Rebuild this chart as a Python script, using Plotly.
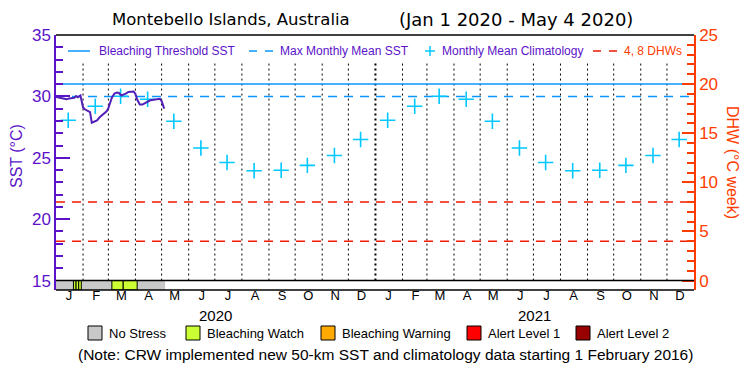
import plotly.graph_objects as go
import pandas as pd

# ---------------- data ----------------
sst_dates = ['2020-01-01', '2020-01-04', '2020-01-07', '2020-01-10', '2020-01-13', '2020-01-16',
             '2020-01-19', '2020-01-22', '2020-01-24', '2020-01-26', '2020-01-29', '2020-01-30',
             '2020-02-01', '2020-02-03', '2020-02-06', '2020-02-09', '2020-02-11', '2020-02-14',
             '2020-02-17', '2020-02-20', '2020-02-23', '2020-02-26', '2020-02-28', '2020-03-01',
             '2020-03-03', '2020-03-05', '2020-03-08', '2020-03-11', '2020-03-13', '2020-03-16',
             '2020-03-18', '2020-03-21', '2020-03-24', '2020-03-27', '2020-03-30', '2020-04-01',
             '2020-04-03', '2020-04-06', '2020-04-09', '2020-04-12', '2020-04-15', '2020-04-18',
             '2020-04-22', '2020-04-26', '2020-04-29', '2020-05-01', '2020-05-03', '2020-05-04']
sst_values = [29.96, 29.92, 29.85, 29.80, 29.77, 29.82,
              29.85, 29.88, 30.02, 29.92, 30.07, 29.73,
              29.10, 28.95, 28.82, 28.72, 27.85, 27.92,
              28.05, 28.30, 28.48, 28.68, 28.78, 29.04,
              29.50, 29.89, 30.24, 30.32, 30.28, 30.07,
              30.15, 30.22, 30.36, 30.40, 30.40, 30.20,
              29.74, 29.34, 29.33, 29.45, 29.55, 29.68,
              29.72, 29.78, 29.80, 29.62, 29.20, 29.00]

clim_months = [1, 2, 3, 4, 5, 6, 7, 8, 9, 10, 11, 12]
clim_values = [28.06, 29.20, 30.01, 29.77, 27.98, 25.79, 24.62, 23.94, 23.98, 24.38, 25.19, 26.49]
clim_years = [2020, 2021]

bleaching_threshold = 31.0
max_monthly_mean = 30.0
dhw_levels = [4, 8]

stress_names = ['No Stress', 'Bleaching Watch', 'Bleaching Warning', 'Alert Level 1', 'Alert Level 2']
stress_colors = ['#c8c8c8', '#ccff33', '#ffaa00', '#ff0000', '#990000']
stress_start = ['2020-01-01', '2020-01-21', '2020-01-24', '2020-01-27', '2020-03-05', '2020-03-18']
stress_end = ['2020-05-05', '2020-01-24', '2020-01-27', '2020-01-30', '2020-03-18', '2020-04-03']
stress_level = [0, 1, 1, 1, 1, 1]

month_letters = ['J', 'F', 'M', 'A', 'M', 'J', 'J', 'A', 'S', 'O', 'N', 'D']
year_labels = ['2020', '2021']

title_site = 'Montebello Islands, Australia'
title_period = '(Jan 1 2020 - May 4 2020)'
note_text = '(Note: CRW implemented new 50-km SST and climatology data starting 1 February 2016)'

# ---------------- styling ----------------
W, H = 750, 375
ML, MR, MT, MB = 56, 56, 35, 85
PW, PH = W - ML - MR, H - MT - MB
FONT = 'Liberation Sans'
TFONT = 'DejaVu Sans'
PURPLE = '#5b12c8'
SSTLINE = '#5220b8'
BLUE = '#0a96ff'
CYAN = '#00c8ff'
ORANGE = '#ff3c00'
RED = '#f01a00'

Y_TOP = 35.0
Y_BASE = 15.0
Y_MIN = 14.23          # bottom of stress strip
DHW_SCALE = 1.25       # 25 DHW over 20 degC
X0, X1 = '2020-01-01', '2022-01-01'


def px(xp):
    return (xp - ML) / PW


def py(yp):
    return (H - MB - yp) / PH


fig = go.Figure()

# horizontal reference lines
fig.add_trace(go.Scatter(x=[X0, X1], y=[bleaching_threshold] * 2, mode='lines',
                         line=dict(color=BLUE, width=1.5), showlegend=False, hoverinfo='skip'))
fig.add_trace(go.Scatter(x=[X0, X1], y=[max_monthly_mean] * 2, mode='lines',
                         line=dict(color=BLUE, width=1.5, dash='9px,7px'), showlegend=False,
                         hoverinfo='skip'))
for lv in dhw_levels:
    fig.add_trace(go.Scatter(x=[X0, X1], y=[lv, lv], mode='lines', yaxis='y2',
                             line=dict(color=RED, width=1.5, dash='9px,7px'), showlegend=False,
                             hoverinfo='skip'))

# climatology crosses
clim_x, clim_y = [], []
for yr in clim_years:
    for m, v in zip(clim_months, clim_values):
        clim_x.append(pd.Timestamp(year=yr, month=m, day=15))
        clim_y.append(v)
fig.add_trace(go.Scatter(x=clim_x, y=clim_y, mode='markers',
                         marker=dict(symbol='cross-thin', size=11, line=dict(color=CYAN, width=1.6)),
                         showlegend=False, hoverinfo='skip'))

# SST line
fig.add_trace(go.Scatter(x=sst_dates, y=sst_values, mode='lines',
                         line=dict(color=SSTLINE, width=2), showlegend=False))

shapes = []
# month boundary dotted lines
bounds = pd.date_range('2020-02-01', '2021-12-01', freq='MS')
for b in bounds:
    yb = b.month == 1
    shapes.append(dict(type='line', xref='x', yref='y', x0=b, x1=b, y0=Y_BASE, y1=32.7,
                       line=dict(color='black', width=2 if yb else 1, dash='2px,3px'),
                       layer='below'))

# stress strip
for s, e, lvl in zip(stress_start, stress_end, stress_level):
    shapes.append(dict(type='rect', xref='x', yref='y', x0=s, x1=e, y0=Y_MIN, y1=Y_BASE,
                       fillcolor=stress_colors[lvl],
                       line=dict(color='black', width=1 if lvl > 0 else 0)))

# frame lines
shapes.append(dict(type='line', xref='paper', yref='paper', x0=0, x1=1, y0=1, y1=1,
                   line=dict(color='black', width=1.5)))
shapes.append(dict(type='line', xref='paper', yref='y', x0=0, x1=1, y0=Y_BASE, y1=Y_BASE,
                   line=dict(color='black', width=1.5)))
shapes.append(dict(type='line', xref='paper', yref='paper', x0=0, x1=1, y0=0, y1=0,
                   line=dict(color='black', width=1.5)))

annotations = []
LEG_Y = py(51)
# top legend
shapes.append(dict(type='line', xref='paper', yref='paper', x0=px(68), x1=px(90), y0=LEG_Y, y1=LEG_Y,
                   line=dict(color=BLUE, width=1.5)))
annotations.append(dict(x=px(97), y=LEG_Y, xref='paper', yref='paper', text='Bleaching Threshold SST',
                        showarrow=False, xanchor='left', yanchor='middle',
                        font=dict(family=FONT, size=12, color=PURPLE)))
shapes.append(dict(type='line', xref='paper', yref='paper', x0=px(249), x1=px(273), y0=LEG_Y, y1=LEG_Y,
                   line=dict(color=BLUE, width=1.5, dash='8px,8px')))
annotations.append(dict(x=px(278), y=LEG_Y, xref='paper', yref='paper', text='Max Monthly Mean SST',
                        showarrow=False, xanchor='left', yanchor='middle',
                        font=dict(family=FONT, size=12, color=PURPLE)))
shapes.append(dict(type='line', xref='paper', yref='paper', x0=px(425), x1=px(435), y0=LEG_Y, y1=LEG_Y,
                   line=dict(color=CYAN, width=1.5)))
shapes.append(dict(type='line', xref='paper', yref='paper', x0=px(430), x1=px(430), y0=py(46), y1=py(56),
                   line=dict(color=CYAN, width=1.5)))
annotations.append(dict(x=px(440), y=LEG_Y, xref='paper', yref='paper', text='Monthly Mean Climatology',
                        showarrow=False, xanchor='left', yanchor='middle',
                        font=dict(family=FONT, size=12, color=PURPLE)))
shapes.append(dict(type='line', xref='paper', yref='paper', x0=px(593), x1=px(617), y0=LEG_Y, y1=LEG_Y,
                   line=dict(color=RED, width=1.5, dash='8px,8px')))
annotations.append(dict(x=px(622), y=LEG_Y, xref='paper', yref='paper', text='4, 8 DHWs',
                        showarrow=False, xanchor='left', yanchor='middle',
                        font=dict(family=FONT, size=12, color=ORANGE)))

# title
annotations.append(dict(x=px(231), y=py(20), xref='paper', yref='paper', text=title_site,
                        showarrow=False, xanchor='center', yanchor='middle',
                        font=dict(family=TFONT, size=16.5, color='black')))
annotations.append(dict(x=px(516), y=py(20), xref='paper', yref='paper', text=title_period,
                        showarrow=False, xanchor='center', yanchor='middle',
                        font=dict(family=TFONT, size=18, color='black')))

# axis titles
annotations.append(dict(x=px(16), y=py(156), xref='paper', yref='paper', text='SST (°C)',
                        textangle=-90, showarrow=False, xanchor='center', yanchor='middle',
                        font=dict(family=FONT, size=16, color=PURPLE)))
annotations.append(dict(x=px(733), y=py(162), xref='paper', yref='paper', text='DHW (°C week)',
                        textangle=90, showarrow=False, xanchor='center', yanchor='middle',
                        font=dict(family=FONT, size=16, color=ORANGE)))

# year labels
for yl in year_labels:
    annotations.append(dict(x=pd.Timestamp(f'{yl}-07-02'), y=py(315), xref='x', yref='paper',
                            text=yl, showarrow=False, xanchor='center', yanchor='middle',
                            font=dict(family=FONT, size=15, color='black')))

# bottom legend
box_x = [88, 186, 321, 467, 576]
LY = 333
for name, col, bx in zip(stress_names, stress_colors, box_x):
    shapes.append(dict(type='rect', xref='paper', yref='paper', x0=px(bx), x1=px(bx + 14),
                       y0=py(LY + 7), y1=py(LY - 7), fillcolor=col,
                       line=dict(color='black', width=1)))
    annotations.append(dict(x=px(bx + 19), y=py(LY), xref='paper', yref='paper', text=name,
                            showarrow=False, xanchor='left', yanchor='middle',
                            font=dict(family=FONT, size=13, color='black')))

annotations.append(dict(x=px(385), y=py(354), xref='paper', yref='paper', text=note_text,
                        showarrow=False, xanchor='center', yanchor='middle',
                        font=dict(family=FONT, size=15.5, color='black')))

# month ticks
tick_vals, tick_text = [], []
for yr in clim_years:
    for m in clim_months:
        tick_vals.append(pd.Timestamp(year=yr, month=m, day=16))
        tick_text.append(month_letters[m - 1])

fig.update_layout(
    width=W, height=H,
    margin=dict(l=ML, r=MR, t=MT, b=MB, pad=0),
    paper_bgcolor='white', plot_bgcolor='white',
    showlegend=False,
    shapes=shapes, annotations=annotations,
    xaxis=dict(type='date', range=[X0, X1], tickvals=tick_vals, ticktext=tick_text,
               showgrid=False, zeroline=False, showline=False, ticks='',
               ticklabelstandoff=-4,
               tickfont=dict(family=FONT, size=13, color='black')),
    yaxis=dict(range=[Y_MIN, Y_TOP], tickvals=[15, 20, 25, 30, 35], showgrid=False,
               zeroline=False, showline=True, linecolor=PURPLE, linewidth=1.5,
               ticks='inside', ticklen=14, tickcolor=PURPLE, tickwidth=1.5,
               minor=dict(dtick=1, tick0=0, ticks='inside', ticklen=7, tickcolor=PURPLE,
                          tickwidth=1.5, showgrid=False),
               tickfont=dict(family=FONT, size=17, color=PURPLE)),
    yaxis2=dict(overlaying='y', side='right',
                range=[(Y_MIN - Y_BASE) * DHW_SCALE, (Y_TOP - Y_BASE) * DHW_SCALE],
                tickvals=[0, 5, 10, 15, 20, 25], showgrid=False, zeroline=False,
                showline=True, linecolor=ORANGE, linewidth=1.5,
                ticks='inside', ticklen=12, tickcolor=ORANGE, tickwidth=1.5,
                minor=dict(dtick=1, tick0=0, ticks='inside', ticklen=7, tickcolor=ORANGE,
                           tickwidth=1.5, showgrid=False),
                tickfont=dict(family=FONT, size=17, color=ORANGE)),
)

fig.write_html('out.html', config={'displayModeBar': False},
               post_script="document.body.style.margin='0px';")
